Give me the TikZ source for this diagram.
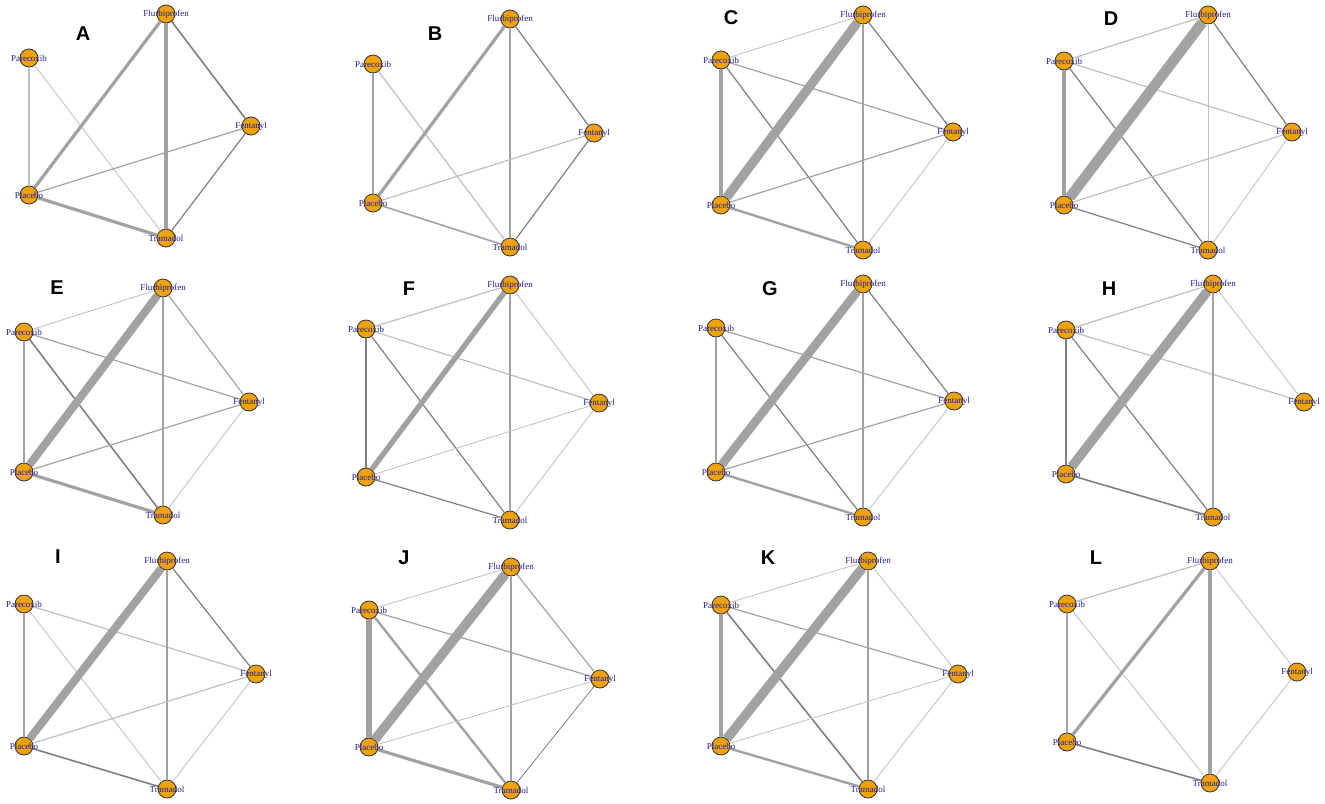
\documentclass[tikz,border=0pt]{standalone}
\usepackage{fontspec}
\setmainfont{Liberation Serif}
\newfontfamily\tagfont{Liberation Sans}
\definecolor{drugfill}{HTML}{EFA20C}
\definecolor{drugrim}{HTML}{2E323C}
\definecolor{druginkblue}{HTML}{1C1C96}
\definecolor{armlightgray}{HTML}{BEBEBE}
\definecolor{armmidgray}{HTML}{A2A2A2}
\definecolor{armdarkgray}{HTML}{7F7F7F}
\tikzset{
  drug/.style={circle, draw=drugrim, fill=drugfill, line width=0.4pt,
    minimum size=9pt, inner sep=0pt},
  drug name/.style={font=\fontsize{4.5}{5}\selectfont, text=druginkblue,
    inner sep=0pt},
  panel tag/.style={font=\tagfont\bfseries\fontsize{10}{11}\selectfont,
    inner sep=0pt},
  arm light/.style={draw=armlightgray},
  arm mid/.style={draw=armmidgray},
  arm dark/.style={draw=armdarkgray},
}

\begin{document}
\begin{tikzpicture}[x=0.5pt, y=-0.5pt]
  \useasboundingbox (0,0) rectangle (1325,803);

  % panel A
  \begin{scope}[shift={(0,0)}]
    \node[drug] (fl) at (166,14) {};
    \node[drug] (pa) at (29,58) {};
    \node[drug] (fe) at (251,126) {};
    \node[drug] (pl) at (29,195) {};
    \node[drug] (tr) at (166,238) {};
    \draw[arm light, very thick] (pa) -- (pl);
    \draw[arm light, thin] (pa) -- (tr);
    \draw[arm mid, ultra thick] (pl) -- (fl);
    \draw[arm mid, ultra thick] (fl) -- (tr);
    \draw[arm dark, thick] (fl) -- (fe);
    \draw[arm mid, semithick] (pl) -- (fe);
    \draw[arm dark, semithick] (fe) -- (tr);
    \draw[arm mid, ultra thick] (pl) -- (tr);
    \node[drug name] (fl-n) at (fl) {Flurbiprofen};
    \node[drug name] (pa-n) at (pa) {Parecoxib};
    \node[drug name] (fe-n) at (fe) {Fentanyl};
    \node[drug name] (pl-n) at (pl) {Placebo};
    \node[drug name] (tr-n) at (tr) {Tramadol};
    \node[panel tag] (tag-a) at (83,34) {A};
  \end{scope}

  % panel B
  \begin{scope}[shift={(330,0)}]
    \node[drug] (fl) at (180,19) {};
    \node[drug] (pa) at (43,64) {};
    \node[drug] (fe) at (264,133) {};
    \node[drug] (pl) at (43,203) {};
    \node[drug] (tr) at (180,247) {};
    \draw[arm mid, very thick] (pa) -- (pl);
    \draw[arm light, semithick] (pa) -- (tr);
    \draw[arm mid, ultra thick] (pl) -- (fl);
    \draw[arm mid, thick] (fl) -- (tr);
    \draw[arm dark, semithick] (fl) -- (fe);
    \draw[arm light, semithick] (pl) -- (fe);
    \draw[arm dark, semithick] (fe) -- (tr);
    \draw[arm mid, thick] (pl) -- (tr);
    \node[drug name] (fl-n) at (fl) {Flurbiprofen};
    \node[drug name] (pa-n) at (pa) {Parecoxib};
    \node[drug name] (fe-n) at (fe) {Fentanyl};
    \node[drug name] (pl-n) at (pl) {Placebo};
    \node[drug name] (tr-n) at (tr) {Tramadol};
    \node[panel tag] (tag-b) at (105,34) {B};
  \end{scope}

  % panel C
  \begin{scope}[shift={(660,0)}]
    \node[drug] (fl) at (203,15) {};
    \node[drug] (pa) at (61,60) {};
    \node[drug] (fe) at (293,132) {};
    \node[drug] (pl) at (61,205) {};
    \node[drug] (tr) at (203,250) {};
    \draw[arm light, thin] (pa) -- (fl);
    \draw[arm mid, ultra thick] (pa) -- (pl);
    \draw[arm mid, semithick] (pa) -- (fe);
    \draw[arm dark, semithick] (pa) -- (tr);
    \draw[arm mid, line width=4.6pt] (pl) -- (fl);
    \draw[arm mid, semithick] (fl) -- (tr);
    \draw[arm dark, semithick] (fl) -- (fe);
    \draw[arm mid, semithick] (pl) -- (fe);
    \draw[arm light, thin] (fe) -- (tr);
    \draw[arm mid, very thick] (pl) -- (tr);
    \node[drug name] (fl-n) at (fl) {Flurbiprofen};
    \node[drug name] (pa-n) at (pa) {Parecoxib};
    \node[drug name] (fe-n) at (fe) {Fentanyl};
    \node[drug name] (pl-n) at (pl) {Placebo};
    \node[drug name] (tr-n) at (tr) {Tramadol};
    \node[panel tag] (tag-c) at (71,18) {C};
  \end{scope}

  % panel D
  \begin{scope}[shift={(990,0)}]
    \node[drug] (fl) at (218,15) {};
    \node[drug] (pa) at (74,61) {};
    \node[drug] (fe) at (302,132) {};
    \node[drug] (pl) at (74,205) {};
    \node[drug] (tr) at (218,250) {};
    \draw[arm light, semithick] (pa) -- (fl);
    \draw[arm mid, ultra thick] (pa) -- (pl);
    \draw[arm light, semithick] (pa) -- (fe);
    \draw[arm dark, semithick] (pa) -- (tr);
    \draw[arm mid, line width=5.2pt] (pl) -- (fl);
    \draw[arm light, thin] (fl) -- (tr);
    \draw[arm dark, semithick] (fl) -- (fe);
    \draw[arm light, semithick] (pl) -- (fe);
    \draw[arm light, thin] (fe) -- (tr);
    \draw[arm dark, semithick] (pl) -- (tr);
    \node[drug name] (fl-n) at (fl) {Flurbiprofen};
    \node[drug name] (pa-n) at (pa) {Parecoxib};
    \node[drug name] (fe-n) at (fe) {Fentanyl};
    \node[drug name] (pl-n) at (pl) {Placebo};
    \node[drug name] (tr-n) at (tr) {Tramadol};
    \node[panel tag] (tag-d) at (121,19) {D};
  \end{scope}

  % panel E
  \begin{scope}[shift={(0,265)}]
    \node[drug] (fl) at (163,23) {};
    \node[drug] (pa) at (24,67) {};
    \node[drug] (fe) at (249,137) {};
    \node[drug] (pl) at (24,207) {};
    \node[drug] (tr) at (163,250) {};
    \draw[arm light, thin] (pa) -- (fl);
    \draw[arm mid, very thick] (pa) -- (pl);
    \draw[arm mid, semithick] (pa) -- (fe);
    \draw[arm dark, thick] (pa) -- (tr);
    \draw[arm mid, line width=4pt] (pl) -- (fl);
    \draw[arm mid, thick] (fl) -- (tr);
    \draw[arm mid, semithick] (fl) -- (fe);
    \draw[arm mid, semithick] (pl) -- (fe);
    \draw[arm light, thin] (fe) -- (tr);
    \draw[arm mid, ultra thick] (pl) -- (tr);
    \node[drug name] (fl-n) at (fl) {Flurbiprofen};
    \node[drug name] (pa-n) at (pa) {Parecoxib};
    \node[drug name] (fe-n) at (fe) {Fentanyl};
    \node[drug name] (pl-n) at (pl) {Placebo};
    \node[drug name] (tr-n) at (tr) {Tramadol};
    \node[panel tag] (tag-e) at (57,23) {E};
  \end{scope}

  % panel F
  \begin{scope}[shift={(330,265)}]
    \node[drug] (fl) at (180,20) {};
    \node[drug] (pa) at (36,64) {};
    \node[drug] (fe) at (269,138) {};
    \node[drug] (pl) at (36,212) {};
    \node[drug] (tr) at (180,255) {};
    \draw[arm light, semithick] (pa) -- (fl);
    \draw[arm dark, thick] (pa) -- (pl);
    \draw[arm light, semithick] (pa) -- (fe);
    \draw[arm dark, semithick] (pa) -- (tr);
    \draw[arm mid, line width=2.7pt] (pl) -- (fl);
    \draw[arm mid, semithick] (fl) -- (tr);
    \draw[arm light, thin] (fl) -- (fe);
    \draw[arm light, thin] (pl) -- (fe);
    \draw[arm light, thin] (fe) -- (tr);
    \draw[arm dark, semithick] (pl) -- (tr);
    \node[drug name] (fl-n) at (fl) {Flurbiprofen};
    \node[drug name] (pa-n) at (pa) {Parecoxib};
    \node[drug name] (fe-n) at (fe) {Fentanyl};
    \node[drug name] (pl-n) at (pl) {Placebo};
    \node[drug name] (tr-n) at (tr) {Tramadol};
    \node[panel tag] (tag-f) at (79,24) {F};
  \end{scope}

  % panel G
  \begin{scope}[shift={(660,265)}]
    \node[drug] (fl) at (203,19) {};
    \node[drug] (pa) at (56,63) {};
    \node[drug] (fe) at (294,136) {};
    \node[drug] (pl) at (56,207) {};
    \node[drug] (tr) at (203,252) {};
    \draw[arm mid, very thick] (pa) -- (pl);
    \draw[arm mid, semithick] (pa) -- (fe);
    \draw[arm dark, semithick] (pa) -- (tr);
    \draw[arm mid, line width=4.3pt] (pl) -- (fl);
    \draw[arm mid, thick] (fl) -- (tr);
    \draw[arm dark, semithick] (fl) -- (fe);
    \draw[arm mid, semithick] (pl) -- (fe);
    \draw[arm light, thin] (fe) -- (tr);
    \draw[arm mid, very thick] (pl) -- (tr);
    \node[drug name] (fl-n) at (fl) {Flurbiprofen};
    \node[drug name] (pa-n) at (pa) {Parecoxib};
    \node[drug name] (fe-n) at (fe) {Fentanyl};
    \node[drug name] (pl-n) at (pl) {Placebo};
    \node[drug name] (tr-n) at (tr) {Tramadol};
    \node[panel tag] (tag-g) at (110,24) {G};
  \end{scope}

  % panel H
  \begin{scope}[shift={(990,265)}]
    \node[drug] (fl) at (223,19) {};
    \node[drug] (pa) at (76,65) {};
    \node[drug] (fe) at (314,137) {};
    \node[drug] (pl) at (76,209) {};
    \node[drug] (tr) at (223,252) {};
    \draw[arm light, semithick] (pa) -- (fl);
    \draw[arm dark, thick] (pa) -- (pl);
    \draw[arm light, semithick] (pa) -- (fe);
    \draw[arm dark, semithick] (pa) -- (tr);
    \draw[arm mid, line width=4.7pt] (pl) -- (fl);
    \draw[arm mid, semithick] (fl) -- (tr);
    \draw[arm light, thin] (fl) -- (fe);
    \draw[arm dark, thick] (pl) -- (tr);
    \node[drug name] (fl-n) at (fl) {Flurbiprofen};
    \node[drug name] (pa-n) at (pa) {Parecoxib};
    \node[drug name] (fe-n) at (fe) {Fentanyl};
    \node[drug name] (pl-n) at (pl) {Placebo};
    \node[drug name] (tr-n) at (tr) {Tramadol};
    \node[panel tag] (tag-h) at (119,24) {H};
  \end{scope}

  % panel I
  \begin{scope}[shift={(0,535)}]
    \node[drug] (fl) at (167,26) {};
    \node[drug] (pa) at (24,69) {};
    \node[drug] (fe) at (256,139) {};
    \node[drug] (pl) at (24,211) {};
    \node[drug] (tr) at (167,254) {};
    \draw[arm mid, thick] (pa) -- (pl);
    \draw[arm light, semithick] (pa) -- (fe);
    \draw[arm light, thin] (pa) -- (tr);
    \draw[arm mid, line width=4pt] (pl) -- (fl);
    \draw[arm mid, thick] (fl) -- (tr);
    \draw[arm dark, semithick] (fl) -- (fe);
    \draw[arm light, semithick] (pl) -- (fe);
    \draw[arm light, thin] (fe) -- (tr);
    \draw[arm dark, thick] (pl) -- (tr);
    \node[drug name] (fl-n) at (fl) {Flurbiprofen};
    \node[drug name] (pa-n) at (pa) {Parecoxib};
    \node[drug name] (fe-n) at (fe) {Fentanyl};
    \node[drug name] (pl-n) at (pl) {Placebo};
    \node[drug name] (tr-n) at (tr) {Tramadol};
    \node[panel tag] (tag-i) at (58,22) {I};
  \end{scope}

  % panel J
  \begin{scope}[shift={(330,535)}]
    \node[drug] (fl) at (181,32) {};
    \node[drug] (pa) at (39,75) {};
    \node[drug] (fe) at (270,144) {};
    \node[drug] (pl) at (39,212) {};
    \node[drug] (tr) at (181,255) {};
    \draw[arm light, thin] (pa) -- (fl);
    \draw[arm mid, line width=2.6pt] (pa) -- (pl);
    \draw[arm mid, semithick] (pa) -- (fe);
    \draw[arm mid, very thick] (pa) -- (tr);
    \draw[arm mid, line width=4.7pt] (pl) -- (fl);
    \draw[arm mid, very thick] (fl) -- (tr);
    \draw[arm mid, semithick] (fl) -- (fe);
    \draw[arm light, thin] (pl) -- (fe);
    \draw[arm dark, thin] (fe) -- (tr);
    \draw[arm mid, ultra thick] (pl) -- (tr);
    \node[drug name] (fl-n) at (fl) {Flurbiprofen};
    \node[drug name] (pa-n) at (pa) {Parecoxib};
    \node[drug name] (fe-n) at (fe) {Fentanyl};
    \node[drug name] (pl-n) at (pl) {Placebo};
    \node[drug name] (tr-n) at (tr) {Tramadol};
    \node[panel tag] (tag-j) at (74,23) {J};
  \end{scope}

  % panel K
  \begin{scope}[shift={(660,535)}]
    \node[drug] (fl) at (208,26) {};
    \node[drug] (pa) at (61,70) {};
    \node[drug] (fe) at (298,139) {};
    \node[drug] (pl) at (61,211) {};
    \node[drug] (tr) at (208,254) {};
    \draw[arm light, thin] (pa) -- (fl);
    \draw[arm mid, line width=2.2pt] (pa) -- (pl);
    \draw[arm mid, semithick] (pa) -- (fe);
    \draw[arm dark, thick] (pa) -- (tr);
    \draw[arm mid, line width=4.7pt] (pl) -- (fl);
    \draw[arm mid, thick] (fl) -- (tr);
    \draw[arm light, thin] (fl) -- (fe);
    \draw[arm light, thin] (pl) -- (fe);
    \draw[arm light, thin] (fe) -- (tr);
    \draw[arm mid, very thick] (pl) -- (tr);
    \node[drug name] (fl-n) at (fl) {Flurbiprofen};
    \node[drug name] (pa-n) at (pa) {Parecoxib};
    \node[drug name] (fe-n) at (fe) {Fentanyl};
    \node[drug name] (pl-n) at (pl) {Placebo};
    \node[drug name] (tr-n) at (tr) {Tramadol};
    \node[panel tag] (tag-k) at (108,23) {K};
  \end{scope}

  % panel L
  \begin{scope}[shift={(990,535)}]
    \node[drug] (fl) at (220,26) {};
    \node[drug] (pa) at (77,69) {};
    \node[drug] (fe) at (307,137) {};
    \node[drug] (pl) at (77,207) {};
    \node[drug] (tr) at (220,248) {};
    \draw[arm light, semithick] (pa) -- (fl);
    \draw[arm mid, very thick] (pa) -- (pl);
    \draw[arm light, thin] (pa) -- (tr);
    \draw[arm mid, ultra thick] (pl) -- (fl);
    \draw[arm mid, ultra thick] (fl) -- (tr);
    \draw[arm light, thin] (fl) -- (fe);
    \draw[arm light, thin] (fe) -- (tr);
    \draw[arm dark, thick] (pl) -- (tr);
    \node[drug name] (fl-n) at (fl) {Flurbiprofen};
    \node[drug name] (pa-n) at (pa) {Parecoxib};
    \node[drug name] (fe-n) at (fe) {Fentanyl};
    \node[drug name] (pl-n) at (pl) {Placebo};
    \node[drug name] (tr-n) at (tr) {Tramadol};
    \node[panel tag] (tag-l) at (106,23) {L};
  \end{scope}
\end{tikzpicture}
\end{document}
